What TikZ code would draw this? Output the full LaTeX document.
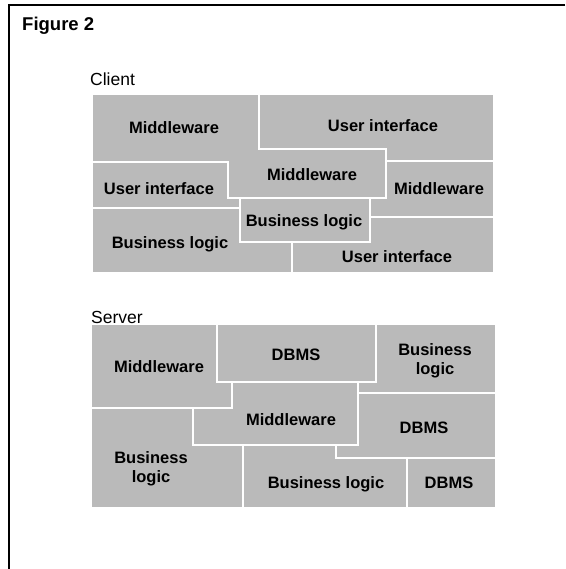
\documentclass[tikz,border=0pt]{standalone}
\usepackage{fontspec}
\setmainfont{Liberation Sans}
\begin{document}
\begin{tikzpicture}[x=1pt,y=-1pt,
  area/.style={fill=black!27, draw=none},
  gap/.style={draw=white, line width=2.4pt, line cap=rect},
  lbl/.style={font=\fontsize{16.5}{19}\selectfont\bfseries, inner sep=0pt, align=center},
  head/.style={font=\fontsize{17.5}{20}\selectfont, anchor=base west, inner sep=0pt},
  title/.style={font=\fontsize{18.5}{22}\selectfont\bfseries, anchor=base west, inner sep=0pt},
]
\useasboundingbox (0,0) rectangle (565,569);

% open frame: top and left rules
\draw[line width=1.3pt] (565,5) -- (9,5) -- (9,569);

\node[title] (fig) at (22,31) {Figure 2};

% ---------------- Client ----------------
\node[head] (client) at (90,86) {Client};
\fill[area] (93,95) rectangle (493,272);

% seams between the client tiles
\draw[gap] (259,95) -- (259,149) -- (386,149) -- (386,198);
\draw[gap] (93,162) -- (228,162) -- (228,198) -- (386,198);
\draw[gap] (386,161) -- (493,161);
\draw[gap] (93,208) -- (240,208);
\draw[gap] (240,198) -- (240,242) -- (370,242) -- (370,198);
\draw[gap] (370,217) -- (493,217);
\draw[gap] (292,242) -- (292,272);

\node[lbl] (cmw1) at (174,127.5) {Middleware};
\node[lbl] (cui1) at (383,125.5) {User interface};
\node[lbl] (cmw2) at (312,175) {Middleware};
\node[lbl] (cui2) at (159,188.5) {User interface};
\node[lbl] (cmw3) at (439,188.5) {Middleware};
\node[lbl] (cbl1) at (304,222.5) {Business logic};
\node[lbl] (cbl2) at (170,244.5) {Business logic};
\node[lbl] (cui3) at (397,256.5) {User interface};

% ---------------- Server ----------------
\node[head] (server) at (91,323) {Server};
\fill[area] (92,325) rectangle (495,507);

% seams between the server tiles
\draw[gap] (217,325) -- (217,382) -- (376,382) -- (376,325);
\draw[gap] (232,382) -- (232,408) -- (92,408);
\draw[gap] (193,408) -- (193,445) -- (358,445) -- (358,382);
\draw[gap] (359,393) -- (495,393);
\draw[gap] (336,445) -- (336,458) -- (495,458);
\draw[gap] (243,445) -- (243,507);
\draw[gap] (407,458) -- (407,507);

\node[lbl] (smw1) at (159,366.5) {Middleware};
\node[lbl] (sdb1) at (296,355) {DBMS};
\node[lbl] (sbl1) at (435,360.5) {Business\\logic};
\node[lbl] (smw2) at (291,420) {Middleware};
\node[lbl] (sdb2) at (424,427.5) {DBMS};
\node[lbl] (sbl2) at (151,468.5) {Business\\logic};
\node[lbl] (sbl3) at (326,484.5) {Business logic};
\node[lbl] (sdb3) at (449,483) {DBMS};
\end{tikzpicture}
\end{document}
